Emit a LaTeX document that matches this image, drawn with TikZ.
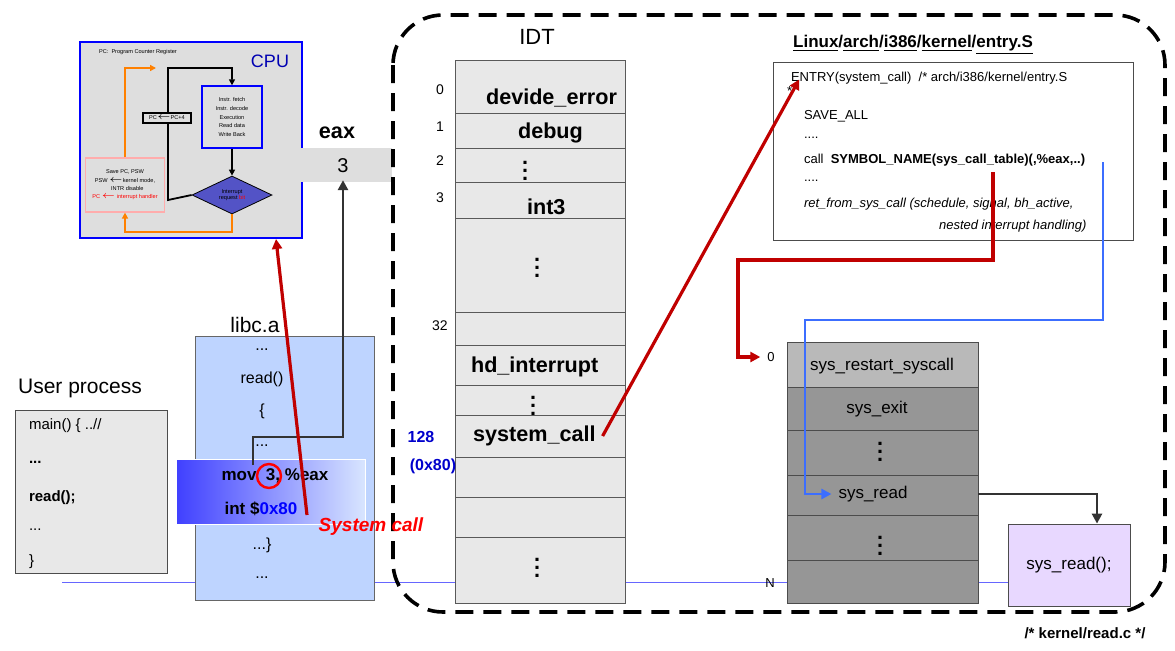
\documentclass[tikz,border=0pt]{standalone}
\usepackage{fontspec}
\setmainfont{Liberation Sans}
\usetikzlibrary{shapes.geometric,arrows.meta}
\definecolor{cpugray}{RGB}{222,222,222}
\definecolor{libblue}{RGB}{190,212,255}
\definecolor{lav}{RGB}{232,216,255}
\definecolor{tblgray}{RGB}{150,150,150}
\definecolor{darkred}{RGB}{192,0,0}
\definecolor{myblue}{RGB}{60,110,255}
\begin{document}
\begin{tikzpicture}[x=0.5pt,y=-0.5pt,
  lab/.style={font=\fontsize{10}{12}\selectfont},
  blab/.style={font=\bfseries\fontsize{10.8}{12}\selectfont},
  code/.style={font=\fontsize{6.5}{8}\selectfont,anchor=west},
  lc/.style={font=\fontsize{8}{10}\selectfont},
  tiny/.style={font=\fontsize{2.8}{3.2}\selectfont},
  redarr/.style={darkred,line width=1.6pt,-{Triangle[length=5pt,width=5pt]}},
  bluearr/.style={myblue,line width=1.2pt,-{Triangle[length=5pt,width=5pt]}},
  blkarr/.style={black!80,line width=1.4pt,-{Triangle[length=5pt,width=5pt]}}]
\useasboundingbox (0,0) rectangle (1175,650);
% thin blue baseline
\draw[blue!60,line width=0.5pt] (62,582) -- (1008,582);
% CPU
\node[draw=blue,line width=1pt,fill=cpugray,minimum width=111pt,minimum height=98pt,inner sep=0] (cpu) at (191,140) {};
\node[tiny,anchor=west] (pcl) at (92,52) {PC:\ \ Program Counter Register};
\node[text=blue!70!black,font=\fontsize{9}{10}\selectfont] (cpul) at (270,61) {CPU};
\node[draw=blue,line width=0.7pt,fill=cpugray,minimum width=30pt,minimum height=31pt,align=center,tiny] (pipe) at (232,117) {Instr. fetch\\[1.2pt]Instr. decode\\[1.2pt]Execution\\[1.2pt]Read data\\[1.2pt]Write Back};
\node[draw,line width=0.6pt,fill=cpugray,tiny,minimum width=24pt,minimum height=5pt,inner sep=0.5pt] (pc4) at (167,118) {PC$\leftarrow$PC+4};
\node[diamond,draw=black,fill=blue!50!gray!90,minimum width=40pt,minimum height=19pt,inner sep=0,aspect=2.2,align=center,tiny] (irq) at (232,195) {Interrupt\\request \textcolor{red}{bit}};
\node[draw=pink!90!red,fill=cpugray,line width=0.6pt,minimum width=38pt,minimum height=27pt,align=center,tiny] (sv) at (125,185) {Save PC, PSW\\[1pt]PSW $\leftarrow$kernel mode,\\[1pt]\ \ \ INTR disable\\[1pt]\textcolor{red}{PC $\leftarrow$ interrupt handler}};
\draw[line width=0.9pt,-{Triangle[length=3pt,width=3pt]}] (pipe.south) -- (irq.north);
\draw[line width=0.9pt,-{Triangle[length=3pt,width=3pt]}] (irq.west) -- (168,200) -- (pc4.south -| 168,0) (pc4.north -| 168,0) -- (168,68) -- (232,68) -- (pipe.north);
\draw[orange,line width=0.9pt,-{Triangle[length=3pt,width=3pt]}] (irq.south) -- (232,232) -- (125,232) -- (sv.south);
\draw[orange,line width=0.9pt,-{Triangle[length=3pt,width=3pt]}] (sv.north) -- (125,68) -- (156,68);
% eax
\node[fill=cpugray,minimum width=46pt,minimum height=17pt,inner sep=0] (eaxb) at (346,165) {};
\node[lab] (three) at (343,166) {3};
\node[blab] (eax) at (337,133) {eax};
% dashed region
\draw[line width=1.8pt,dash pattern=on 9pt off 5pt,rounded corners=25pt] (393,15) rectangle (1165,612);
% IDT
\node[font=\fontsize{11}{12}\selectfont] (idtl) at (537,37) {IDT};
\draw[fill=gray!18,draw=gray!70!black,line width=0.5pt] (455,60) rectangle (625,603);
\foreach \y in {113,148,182,218,312,345,385,415,457,497,537}
  \draw[gray!70!black,line width=0.5pt] (455,\y) -- (625,\y);
\node[blab,anchor=west] (i0) at (479,98) {devide\_error};
\node[blab,anchor=west] (i1) at (511,133) {debug};
\node[blab] (i2) at (525,165) {$\vdots$};
\node[blab,anchor=west] (i3) at (520,207) {int3};
\node[blab] (i4) at (537,262) {$\vdots$};
\node[blab,anchor=west] (i5) at (464,367) {hd\_interrupt};
\node[blab] (i6) at (533,400) {$\vdots$};
\node[blab,anchor=west] (sc) at (466,436) {system\_call};
\node[blab] (i7) at (537,562) {$\vdots$};
\foreach \t/\y in {0/90,1/127,2/161,3/198,32/326}
  \node[font=\fontsize{7}{8}\selectfont] at (440,\y) {\t};
\node[blab,text=blue!80!black,font=\bfseries\fontsize{8}{9}\selectfont] (n128) at (421,437) {128};
\node[blab,text=blue!80!black,font=\bfseries\fontsize{8}{9}\selectfont] (n80) at (433,466) {(0x80)};
% entry.S
\node[font=\bfseries\fontsize{8.5}{10}\selectfont] (ent) at (913,45) {\underline{Linux}/\underline{arch}/\underline{i386}/\underline{kernel}/\underline{entry.S}};
\node[draw=black!70,line width=0.5pt,minimum width=180pt,minimum height=89pt,inner sep=0] (ebox) at (953,151) {};
\node[code] (e1) at (784,78) {ENTRY(system\_call)\ \ /* arch/i386/kernel/entry.S};
\node[code] (e1b) at (780,91) {*};
\node[code] (e2) at (797,116) {SAVE\_ALL};
\node[code] (e3) at (797,138) {....};
\node[code] (e4) at (797,160) {call\ \ \textbf{SYMBOL\_NAME(sys\_call\_table)(,\%eax,..)}};
\node[code] (e5) at (797,181) {....};
\node[code,font=\itshape\fontsize{6.5}{8}\selectfont] (e6) at (797,204) {ret\_from\_sys\_call (schedule, signal, bh\_active,};
\node[code,font=\itshape\fontsize{6.5}{8}\selectfont] (e7) at (932,226) {nested interrupt handling)};
% sys_call_table
\draw[fill=tblgray,draw=black!70] (787,342) rectangle (978,603);
\fill[gray!55] (787.5,342.5) rectangle (977.5,387);
\foreach \y in {387,430,475,515,560}
  \draw[black!70,line width=0.5pt] (787,\y) -- (978,\y);
\node[lab,font=\fontsize{8.5}{10}\selectfont] (t0) at (882,366) {sys\_restart\_syscall};
\node[lab,font=\fontsize{8.5}{10}\selectfont] (t1) at (877,409) {sys\_exit};
\node[blab] (t2) at (880,446) {$\vdots$};
\node[lab,font=\fontsize{8.5}{10}\selectfont] (sr) at (873,494) {sys\_read};
\node[blab] (t4) at (880,540) {$\vdots$};
\node[font=\fontsize{6.5}{8}\selectfont] (z0) at (771,357) {0};
\node[font=\fontsize{6.5}{8}\selectfont] (zN) at (770,583) {N};
% sys_read()
\node[draw=black!70,fill=lav,minimum width=61pt,minimum height=41pt,inner sep=0,lab,font=\fontsize{8.5}{10}\selectfont] (srf) at (1069,565) {sys\_read();};
\node[font=\bfseries\fontsize{7.5}{9}\selectfont] (krc) at (1085,633) {/* kernel/read.c */};
% user process
\node[lab,font=\fontsize{10.5}{12}\selectfont] (upl) at (80,388) {User process};
\draw[fill=gray!18,draw=black!70] (15,410) rectangle (167,573);
\node[code,font=\fontsize{7.5}{9}\selectfont] (u1) at (22,426) {main() \{ ..//};
\node[code,font=\bfseries\fontsize{7.5}{9}\selectfont] (u2) at (22,462) {...};
\node[code,font=\bfseries\fontsize{7.5}{9}\selectfont] (u3) at (22,498) {read();};
\node[code,font=\fontsize{7.5}{9}\selectfont] (u4) at (22,530) {...};
\node[code,font=\fontsize{7.5}{9}\selectfont] (u5) at (22,562) {\}};
% libc
\node[lab,font=\fontsize{10.5}{12}\selectfont] (libl) at (255,325) {libc.a};
\draw[fill=libblue,draw=black!60] (195,336) rectangle (374,600);
\node[lc] (l1) at (262,350) {...};
\node[lc] (l2) at (262,379) {read()};
\node[lc] (l3) at (262,411) {\{};
\node[lc] (l4) at (262,446) {...};
\node[lc] (l5) at (262,545) {...\}};
\node[lc] (l6) at (262,578) {...};
\shade[left color=blue!75,right color=libblue!60,draw=white] (176,459) rectangle (365,524);
\node[font=\bfseries\fontsize{8.5}{10}\selectfont] (mov) at (275,476) {mov\ \ 3, \%eax};
\node[font=\bfseries\fontsize{8.5}{10}\selectfont] (int) at (261,509) {int \$\textcolor{blue}{0x80}};
\node[draw=red,line width=1.2pt,circle,minimum size=12pt,inner sep=0] (circ) at (269,476) {};
\node[font=\bfseries\itshape\fontsize{9.5}{11}\selectfont,text=red] (scl) at (371,527) {System call};
% connectors
\coordinate (cs) at (253,465);
\draw[blkarr] (cs) -- (253,437) -- (343,437) -- (three.south);
\coordinate (rs) at (307,515);
\draw[redarr] (rs) -- (cpu.south -| 276,0);
\draw[redarr] (sc.east) -- (e1b.north east);
\draw[redarr] (993,172) -- (993,260) -- (738,260) -- (738,357) -- (z0.west);
\draw[bluearr] (1103,162) -- (1103,320) -- (805,320) -- (805,494) -- (sr.west);
\draw[blkarr] (sr.east -| 978,0) -- (1097,494) -- (srf.north -| 1097,0);
\end{tikzpicture}
\end{document}
